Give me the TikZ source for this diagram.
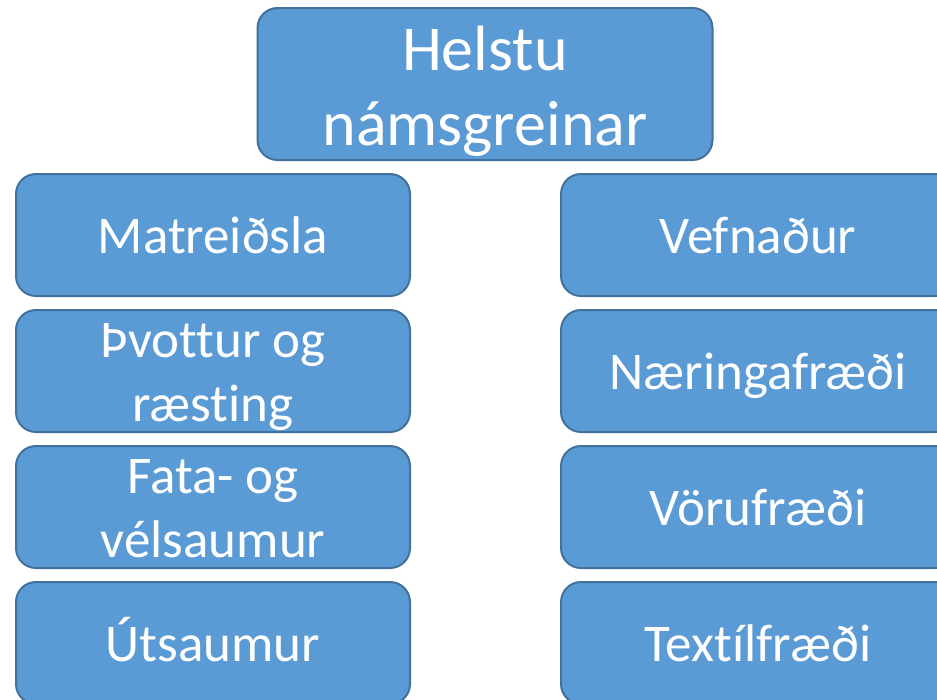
\documentclass[tikz,border=0pt]{standalone}
\usepackage{fontspec}
\setmainfont{Carlito}[Ligatures=NoCommon]
\definecolor{boxfill}{HTML}{5B9BD5}
\definecolor{boxline}{HTML}{41719C}
\begin{document}
\begin{tikzpicture}[x=1pt,y=-1pt,
  box/.style={draw=boxline, fill=boxfill, line width=2pt, rounded corners=20pt,
    minimum width=394pt, minimum height=122pt, inner sep=0pt, text=white,
    align=center, font=\fontsize{53}{63.5}\selectfont,
    text height=40pt, text depth=4pt},
  twoline/.style={text height=110pt, text depth=10pt},
  title/.style={box, minimum width=455pt, minimum height=152pt,
    font=\fontsize{64}{75}\selectfont, text height=134pt, text depth=12pt}]
\useasboundingbox (0,0) rectangle (937,699);
\clip (0,0) rectangle (937,699);
\fill[white] (0,0) rectangle (937,699);
\node[title] (t) at (485,84) {Helstu\\námsgreinar};
\node[box] (l1) at (213,235) {Matreiðsla};
\node[box,twoline] (l2) at (213,371) {Þvottur og\\ræsting};
\node[box,twoline] (l3) at (213,507) {Fata- og\\vélsaumur};
\node[box] (l4) at (213,643) {Útsaumur};
\node[box] (r1) at (758,235) {Vefnaður};
\node[box] (r2) at (758,371) {Næringafræði};
\node[box] (r3) at (758,507) {Vörufræði};
\node[box] (r4) at (758,643) {Textílfræði};
\end{tikzpicture}
\end{document}
